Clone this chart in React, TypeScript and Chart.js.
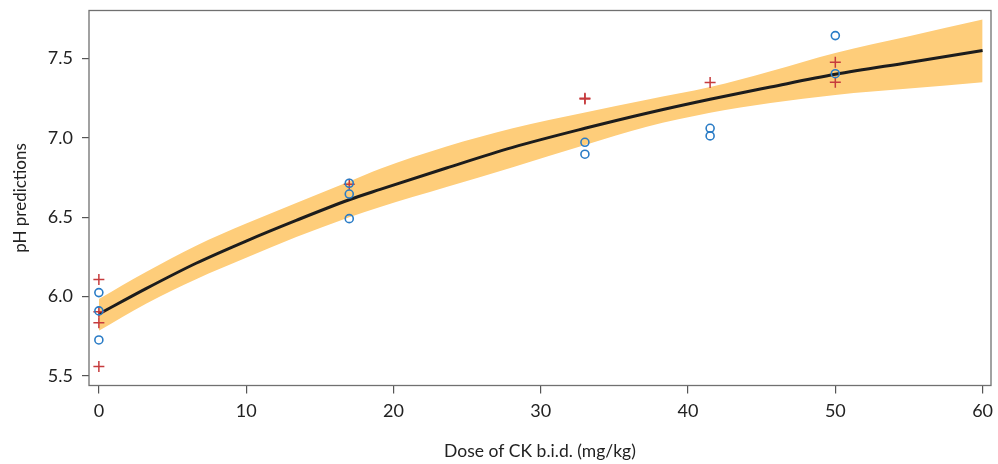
import React, { useEffect, useRef } from "react";
import { Chart, registerables } from "chart.js";

Chart.register(...registerables);

// Fitted curve and confidence band
const fitX = [0, 3.2, 6.6, 10, 13.4, 17, 19.1, 23.6, 28.1, 33, 37.2, 41.5, 45.6, 50, 55, 60];
const fitY = [5.89, 6.05, 6.21, 6.35, 6.48, 6.61, 6.675, 6.81, 6.94, 7.06, 7.155, 7.243, 7.32, 7.40, 7.475, 7.55];
const upperY = [5.985, 6.155, 6.32, 6.46, 6.59, 6.725, 6.805, 6.945, 7.06, 7.16, 7.24, 7.32, 7.42, 7.535, 7.64, 7.745];
const lowerY = [5.785, 5.955, 6.11, 6.245, 6.375, 6.50, 6.565, 6.69, 6.815, 6.955, 7.07, 7.158, 7.22, 7.27, 7.31, 7.35];

// Observations: circles (blue)
const circleX = [0, 0, 0, 17, 17, 17, 33, 33, 41.5, 41.5, 50, 50];
const circleY = [6.025, 5.91, 5.727, 6.714, 6.646, 6.491, 6.972, 6.897, 7.06, 7.012, 7.644, 7.404];

// Observations: crosses (red)
const crossX = [0, 0, 0, 0, 17, 33, 33, 41.5, 50, 50];
const crossY = [6.107, 5.905, 5.836, 5.559, 6.708, 7.25, 7.245, 7.348, 7.476, 7.35];

const xTicks = [0, 10, 20, 30, 40, 50, 60];
const yTicks = [5.5, 6.0, 6.5, 7.0, 7.5];

const xLabel = "Dose of CK b.i.d. (mg/kg)";
const yLabel = "pH predictions";

const zip = (xs: number[], ys: number[]) => xs.map((x, i) => ({ x, y: ys[i] }));

const framePlugin = {
  id: "frame",
  afterDraw(chart: any) {
    const { ctx, chartArea } = chart;
    ctx.save();
    ctx.strokeStyle = "#707070";
    ctx.lineWidth = 1.3;
    ctx.strokeRect(chartArea.left, chartArea.top, chartArea.right - chartArea.left, chartArea.bottom - chartArea.top);
    ctx.restore();
  },
};

export default function App() {
  const ref = useRef<HTMLCanvasElement>(null);
  useEffect(() => {
    if (!ref.current) return;
    const fontFamily = "Lato, 'Open Sans', sans-serif";
    const chart = new Chart(ref.current, {
      type: "line",
      data: {
        datasets: [
          {
            label: "circles",
            data: zip(circleX, circleY),
            showLine: false,
            pointStyle: "circle",
            pointRadius: 4,
            pointBorderWidth: 1.6,
            pointBorderColor: "#2a7cc6",
            pointBackgroundColor: "rgba(0,0,0,0)",
            order: 0,
          },
          {
            label: "crosses",
            data: zip(crossX, crossY),
            showLine: false,
            pointStyle: "cross",
            pointRadius: 5.5,
            pointBorderWidth: 1.5,
            pointBorderColor: "#c63b3d",
            order: 0,
          },
          {
            label: "fit",
            data: zip(fitX, fitY),
            borderColor: "#1c1c1c",
            borderWidth: 3,
            pointRadius: 0,
            cubicInterpolationMode: "monotone",
            fill: false,
            order: 1,
          },
          {
            label: "upper",
            data: zip(fitX, upperY),
            borderWidth: 0,
            borderColor: "rgba(0,0,0,0)",
            backgroundColor: "#fecd7a",
            pointRadius: 0,
            cubicInterpolationMode: "monotone",
            fill: "+1",
            order: 2,
          },
          {
            label: "lower",
            data: zip(fitX, lowerY),
            borderWidth: 0,
            borderColor: "rgba(0,0,0,0)",
            pointRadius: 0,
            cubicInterpolationMode: "monotone",
            fill: false,
            order: 3,
          },
        ],
      },
      options: {
        animation: false,
        responsive: false,
        maintainAspectRatio: false,
        layout: { padding: { top: 10.5, right: 6.3, left: 0, bottom: 0 } },
        plugins: { legend: { display: false }, tooltip: { enabled: false } },
        scales: {
          x: {
            type: "linear",
            min: -0.67,
            max: 60.57,
            afterBuildTicks: (axis: any) => {
              axis.ticks = xTicks.map((v) => ({ value: v }));
            },
            afterFit: (scale: any) => {
              scale.height = 78.5;
              scale.paddingLeft = 0;
              scale.paddingRight = 0;
            },
            grid: { drawOnChartArea: false, drawTicks: true, tickLength: 8, color: "#555", lineWidth: 1.2 },
            border: { display: false },
            ticks: {
              padding: 7,
              color: "#222",
              font: { family: fontFamily, size: 18 },
              maxRotation: 0,
              callback: (v: any) => String(v),
            },
            title: {
              display: true,
              text: xLabel,
              color: "#222",
              font: { family: fontFamily, size: 17.5 },
              padding: { top: 0, bottom: 2 },
            },
          },
          y: {
            type: "linear",
            min: 5.44,
            max: 7.802,
            afterBuildTicks: (axis: any) => {
              axis.ticks = yTicks.map((v) => ({ value: v }));
            },
            afterFit: (scale: any) => {
              scale.width = 89;
              scale.paddingTop = 0;
              scale.paddingBottom = 0;
            },
            grid: { drawOnChartArea: false, drawTicks: true, tickLength: 7, color: "#555", lineWidth: 1.2 },
            border: { display: false },
            ticks: {
              padding: 9,
              color: "#222",
              font: { family: fontFamily, size: 18 },
              callback: (v: any) => Number(v).toFixed(1),
            },
            title: {
              display: true,
              text: yLabel,
              color: "#222",
              font: { family: fontFamily, size: 17 },
              padding: { top: 10, bottom: 0 },
            },
          },
        },
      },
      plugins: [framePlugin],
    } as any);
    return () => chart.destroy();
  }, []);
  return (
    <div style={{ position: "fixed", left: 0, top: 0, width: 998, height: 464, background: "#fff" }}>
      <canvas ref={ref} width={998} height={464} style={{ width: 998, height: 464 }} />
    </div>
  );
}
